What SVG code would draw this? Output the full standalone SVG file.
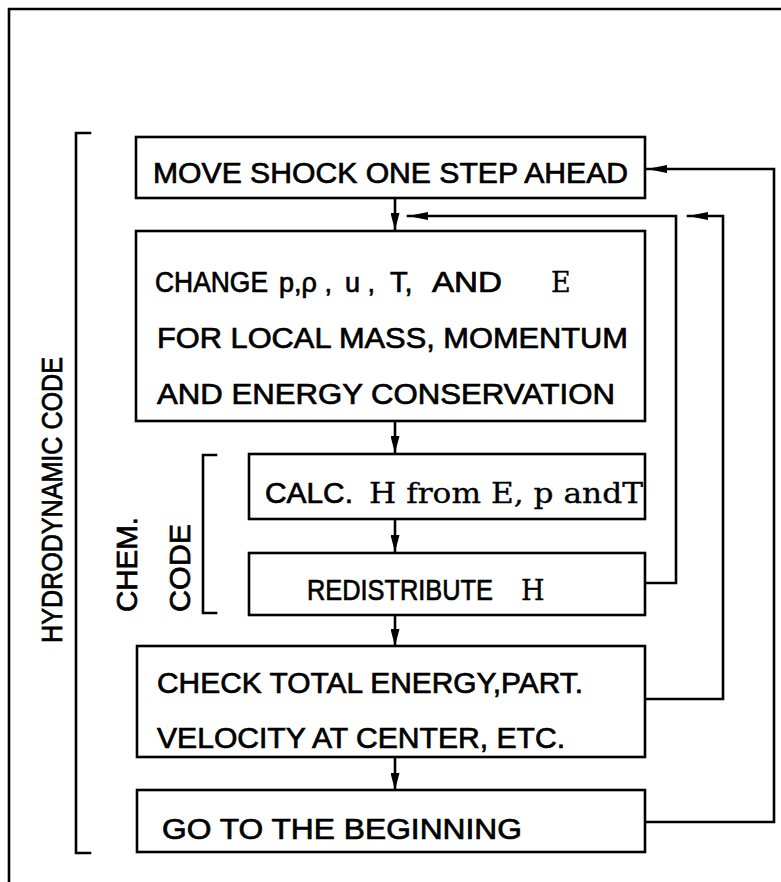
<svg xmlns="http://www.w3.org/2000/svg" width="781" height="882" viewBox="0 0 781 882">
<style>
.box{fill:#fff;stroke:#000;stroke-width:2.6}
.ln{fill:none;stroke:#000;stroke-width:2.6;stroke-linecap:square}
.t{font-family:"Liberation Sans",Arial,sans-serif;font-size:29px;fill:#000;stroke:#000;stroke-width:0.7}
.s{font-family:"DejaVu Serif","Liberation Serif",serif;stroke-width:0.3}
</style>
<defs>
<marker id="ah" viewBox="0 0 20 8" refX="20" refY="4" markerWidth="20" markerHeight="8" markerUnits="userSpaceOnUse" orient="auto">
<path d="M0,0 L20,4 L0,8 Z" fill="#000"/>
</marker>
<marker id="ad" viewBox="0 0 17 9" refX="17" refY="4.5" markerWidth="17" markerHeight="9" markerUnits="userSpaceOnUse" orient="auto">
<path d="M0,0 L17,4.5 L0,9 Z" fill="#000"/>
</marker>
</defs>
<rect width="781" height="882" fill="#fff"/>
<g id="frame">
<path class="ln" d="M9,882 L9,9 L781,9"/>
</g>
<g id="hydro-bracket">
<path class="ln" d="M90,133 L76,133 L76,853 L90,853"/>
<text class="t" transform="translate(62,500) rotate(-90)" text-anchor="middle" textLength="286" lengthAdjust="spacingAndGlyphs">HYDRODYNAMIC CODE</text>
</g>
<g id="chem-bracket">
<path class="ln" d="M216,455 L203,455 L203,613 L216,613"/>
<text class="t" transform="translate(137,612) rotate(-90)" textLength="95" lengthAdjust="spacingAndGlyphs">CHEM.</text>
<text class="t" transform="translate(190,612) rotate(-90)" textLength="88" lengthAdjust="spacingAndGlyphs">CODE</text>
</g>
<g id="connectors">
<line class="ln" x1="395" y1="198" x2="395" y2="230" marker-end="url(#ad)"/>
<line class="ln" x1="395" y1="421" x2="395" y2="453" marker-end="url(#ad)"/>
<line class="ln" x1="395" y1="519" x2="395" y2="552" marker-end="url(#ad)"/>
<line class="ln" x1="395" y1="615" x2="395" y2="646" marker-end="url(#ad)"/>
<line class="ln" x1="395" y1="757" x2="395" y2="790" marker-end="url(#ad)"/>
<path class="ln" d="M645,822 L774,822 L774,169 L647,169" marker-end="url(#ah)"/>
<path class="ln" d="M645,699 L723,699 L723,216 L688,216" marker-end="url(#ah)"/>
<path class="ln" d="M645,583 L676,583 L676,216 L408,216" marker-end="url(#ah)"/>
</g>
<g id="n1">
<rect class="box" x="136" y="137" width="509" height="61"/>
<text class="t" x="153" y="183" textLength="475" lengthAdjust="spacingAndGlyphs">MOVE SHOCK ONE STEP AHEAD</text>
</g>
<g id="n2">
<rect class="box" x="136" y="231" width="509" height="190"/>
<text class="t" y="292"><tspan x="155" textLength="113" lengthAdjust="spacingAndGlyphs">CHANGE</tspan><tspan x="279" font-size="27">p,ρ ,</tspan><tspan x="345" font-size="27">u ,</tspan><tspan x="390">T,</tspan><tspan x="432" textLength="70" lengthAdjust="spacingAndGlyphs">AND</tspan><tspan x="551" class="s" font-size="27">E</tspan></text>
<text class="t" x="157" y="348" textLength="471" lengthAdjust="spacingAndGlyphs">FOR LOCAL MASS, MOMENTUM</text>
<text class="t" x="157" y="404" textLength="458" lengthAdjust="spacingAndGlyphs">AND ENERGY CONSERVATION</text>
</g>
<g id="n3">
<rect class="box" x="249" y="454" width="396" height="65"/>
<text class="t" y="503"><tspan x="265" textLength="88" lengthAdjust="spacingAndGlyphs">CALC.</tspan><tspan x="369" class="s" font-size="27" textLength="274" lengthAdjust="spacingAndGlyphs">H from E, p andT</tspan></text>
</g>
<g id="n4">
<rect class="box" x="249" y="553" width="396" height="62"/>
<text class="t" y="600"><tspan x="307" textLength="186" lengthAdjust="spacingAndGlyphs">REDISTRIBUTE</tspan><tspan x="521" class="s" font-size="27">H</tspan></text>
</g>
<g id="n5">
<rect class="box" x="137" y="646" width="508" height="111"/>
<text class="t" x="157" y="693" textLength="426" lengthAdjust="spacingAndGlyphs">CHECK TOTAL ENERGY,PART.</text>
<text class="t" x="157" y="748" textLength="408" lengthAdjust="spacingAndGlyphs">VELOCITY AT  CENTER, ETC.</text>
</g>
<g id="n6">
<rect class="box" x="137" y="790" width="508" height="62"/>
<text class="t" x="162" y="839" textLength="360" lengthAdjust="spacingAndGlyphs">GO TO THE BEGINNING</text>
</g>
</svg>
